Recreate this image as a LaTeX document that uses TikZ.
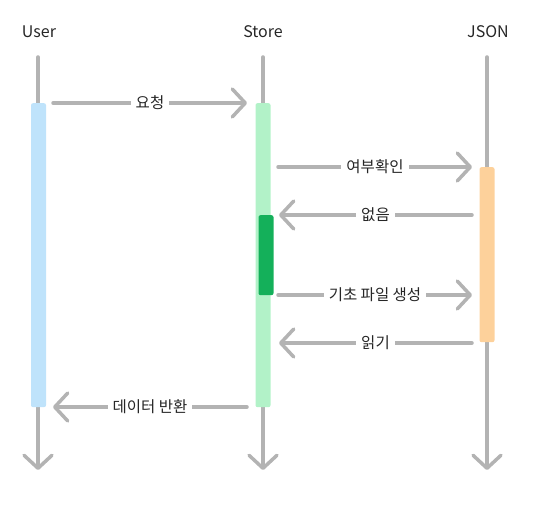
\documentclass[tikz,border=0pt]{standalone}
\usepackage{fontspec}
\setmainfont{Noto Sans CJK KR}
\usetikzlibrary{arrows.meta}
\definecolor{lgray}{HTML}{B3B3B3}
\definecolor{ublue}{HTML}{BFE3FB}
\definecolor{sgreen}{HTML}{B2F2C8}
\definecolor{dgreen}{HTML}{14B05A}
\definecolor{jorange}{HTML}{FDD19B}
\tikzset{
  head/.style={font=\fontsize{16}{19}\selectfont, text=black!85},
  life/.style={draw=lgray, line width=3.5pt, line cap=round, -{Straight Barb[length=13pt,width=28pt,line cap=round,line join=round]}},
  msg/.style={draw=lgray, line width=3.5pt, line cap=round, -{Straight Barb[length=13pt,width=28pt,line cap=round,line join=round]}},
  lbl/.style={fill=white, inner sep=5pt, font=\fontsize{15.5}{18}\selectfont, text=black!85},
  bar/.style={rounded corners=2pt, draw=none, minimum width=15pt, inner sep=0pt, anchor=north}
}
\begin{document}
\begin{tikzpicture}[x=1pt,y=1pt]
\useasboundingbox (0,0) rectangle (537,-510);
% headers
\node[head] (user) at (39,-32) {User};
\node[head] (store) at (263,-32) {Store};
\node[head] (json) at (488,-32) {JSON};
% lifeline coordinates
\coordinate (u0) at (38,-57); \coordinate (u1) at (38,-470);
\coordinate (s0) at (263,-57); \coordinate (s1) at (263,-470);
\coordinate (j0) at (487,-57); \coordinate (j1) at (487,-470);
\draw[life] (u0) -- (u1);
\draw[life] (s0) -- (s1);
\draw[life] (j0) -- (j1);
% activation bars
\node[bar, fill=ublue, minimum height=304pt] (ubar) at (38.5,-103) {};
\node[bar, fill=sgreen, minimum height=304pt] (sbar) at (263,-103) {};
\node[bar, fill=dgreen, minimum height=80pt] (dbar) at (266,-215) {};
\node[bar, fill=jorange, minimum height=175pt] (jbar) at (487,-167) {};
% message endpoints
\coordinate (m1a) at (53,-103);  \coordinate (m1b) at (247,-103);
\coordinate (m2a) at (278,-167); \coordinate (m2b) at (472,-167);
\coordinate (m3a) at (472,-215); \coordinate (m3b) at (279,-215);
\coordinate (m4a) at (278,-295); \coordinate (m4b) at (472,-295);
\coordinate (m5a) at (472,-343); \coordinate (m5b) at (279,-343);
\coordinate (m6a) at (247,-407); \coordinate (m6b) at (53,-407);
\draw[msg] (m1a) -- node[lbl] {요청} (m1b);
\draw[msg] (m2a) -- node[lbl, pos=0.5] {여부확인} (m2b);
\draw[msg] (m3a) -- node[lbl, pos=0.5] {없음} (m3b);
\draw[msg] (m4a) -- node[lbl, pos=0.5] {기초 파일 생성} (m4b);
\draw[msg] (m5a) -- node[lbl, pos=0.5] {읽기} (m5b);
\draw[msg] (m6a) -- node[lbl, pos=0.5] {데이터 반환} (m6b);
\end{tikzpicture}
\end{document}
